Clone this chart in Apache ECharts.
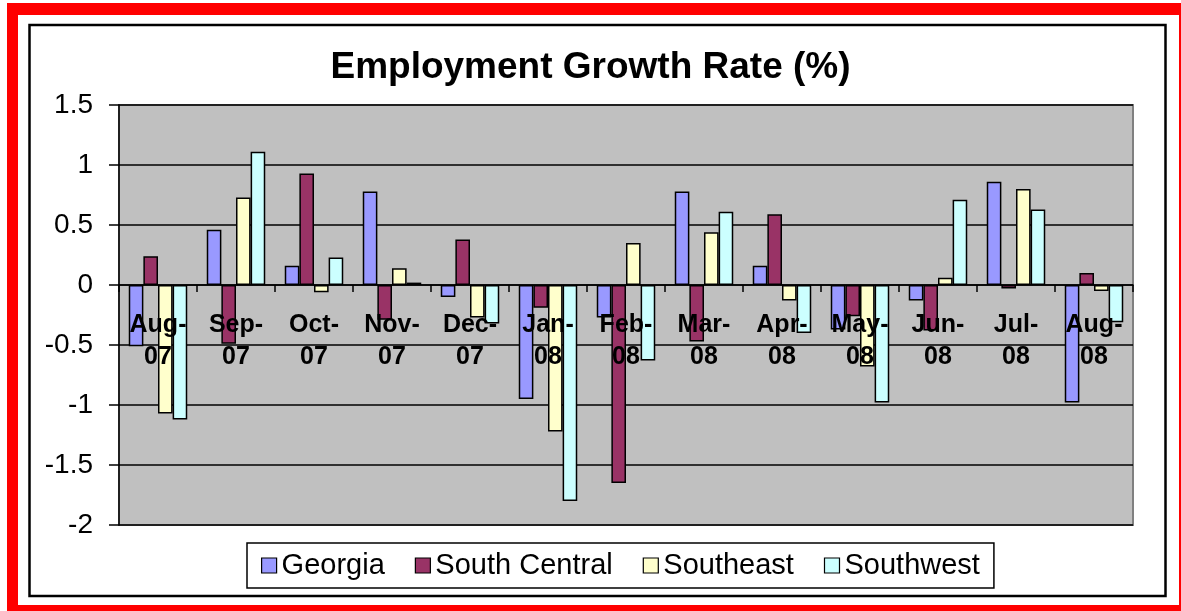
<!DOCTYPE html>
<html>
<head>
<meta charset="utf-8">
<script src="https://cdn.jsdelivr.net/npm/echarts@6/dist/echarts.min.js"></script>
<style>
html,body{margin:0;padding:0;background:#fff;}
#chart{width:1181px;height:611px;}
</style>
</head>
<body>
<div id="chart"></div>
<script>
const categories = ['Aug-07','Sep-07','Oct-07','Nov-07','Dec-07','Jan-08','Feb-08','Mar-08','Apr-08','May-08','Jun-08','Jul-08','Aug-08'];
const georgia      = [-0.51, 0.46, 0.16, 0.78, -0.10, -0.95, -0.27, 0.78, 0.16, -0.37, -0.13, 0.86, -0.98];
const southCentral = [0.24, -0.49, 0.93, -0.29, 0.38, -0.19, -1.65, -0.47, 0.59, -0.26, -0.38, -0.03, 0.10];
const southeast    = [-1.07, 0.73, -0.06, 0.14, -0.27, -1.22, 0.35, 0.44, -0.13, -0.68, 0.06, 0.80, -0.05];
const southwest    = [-1.12, 1.11, 0.23, 0.02, -0.32, -1.80, -0.63, 0.61, -0.40, -0.98, 0.71, 0.63, -0.31];
const seriesNames  = ['Georgia','South Central','Southeast','Southwest'];
const seriesColors = ['#9999FF','#993366','#FFFFCC','#CCFFFF'];
const seriesData   = [georgia, southCentral, southeast, southwest];

const FONT = '"Liberation Sans", Arial, sans-serif';
const chart = echarts.init(document.getElementById('chart'), null, {renderer:'canvas'});
chart.setOption({
  animation: false,
  backgroundColor: '#ffffff',
  textStyle: {fontFamily: FONT},
  graphic: [
    {type:'rect', shape:{x:7, y:3, width:11, height:608}, style:{fill:'#ff0000'}, silent:true},
    {type:'rect', shape:{x:7, y:3, width:1174, height:12}, style:{fill:'#ff0000'}, silent:true},
    {type:'rect', shape:{x:1179, y:3, width:2, height:608}, style:{fill:'#ff0000'}, silent:true},
    {type:'rect', shape:{x:7, y:605, width:1174, height:6}, style:{fill:'#ff0000'}, silent:true},
    {type:'rect', shape:{x:29.5, y:25, width:1136, height:571}, style:{fill:'none', stroke:'#000', lineWidth:2.5}, silent:true}
  ],
  title: {
    text: 'Employment Growth Rate (%)',
    left: 'center',
    top: 49,
    padding: [0,0,0,14],
    textStyle: {fontFamily: FONT, fontSize: 37, fontWeight: 'bold', color: '#000'}
  },
  legend: {
    data: seriesNames,
    left: 247,
    top: 543,
    padding: [8, 14],
    itemGap: 30,
    itemWidth: 15,
    itemHeight: 15,
    icon: 'rect',
    borderColor: '#000',
    borderWidth: 1.5,
    backgroundColor: '#fff',
    textStyle: {fontFamily: FONT, fontSize: 29, color: '#000'},
    itemStyle: {borderColor: '#000', borderWidth: 1.2}
  },
  grid: {
    left: 119, top: 105, right: 48, bottom: 86,
    show: true,
    backgroundColor: '#c0c0c0',
    borderColor: '#808080',
    borderWidth: 2
  },
  xAxis: {
    type: 'category',
    data: categories,
    z: 10,
    axisLine: {show: true, onZero: true, lineStyle: {color: '#000', width: 1.5}},
    axisTick: {show: true, alignWithLabel: false, length: 7, lineStyle: {color: '#000', width: 1.5}},
    axisLabel: {
      interval: 0,
      margin: -216,
      fontFamily: FONT,
      fontSize: 25,
      fontWeight: 'bold',
      lineHeight: 32,
      color: '#000',
      formatter: function (v) { return v.replace('-', '-\n'); }
    },
    splitLine: {show: false}
  },
  yAxis: {
    type: 'value',
    min: -2,
    max: 1.5,
    interval: 0.5,
    axisLine: {show: true, lineStyle: {color: '#000', width: 1.5}},
    axisTick: {show: true, length: 10, lineStyle: {color: '#000', width: 1.5}},
    axisLabel: {margin: 26, fontFamily: FONT, fontSize: 28, color: '#000'},
    splitLine: {show: true, lineStyle: {color: '#000', width: 1.5}}
  },
  series: seriesNames.map(function (name, i) {
    return {
      name: name,
      type: 'bar',
      data: seriesData[i],
      barGap: '0%',
      barCategoryGap: '25%',
      itemStyle: {color: seriesColors[i], borderColor: '#000', borderWidth: 1.5}
    };
  })
});
</script>
</body>
</html>
